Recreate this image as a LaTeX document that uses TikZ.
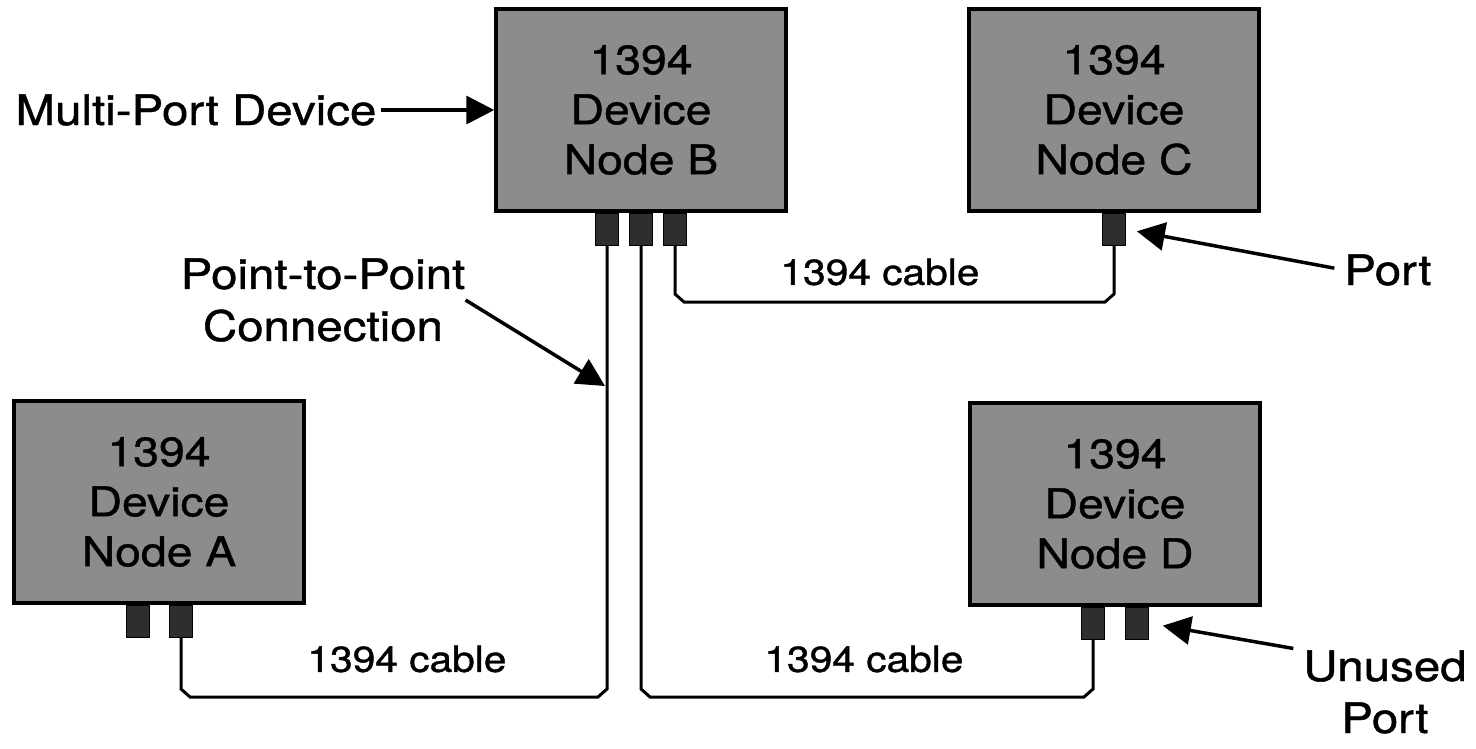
\documentclass[tikz,border=0pt]{standalone}
\usepackage{fontspec}
\setmainfont{TeX Gyre Heros}[FakeStretch=1.13, FakeBold=1]
\usepackage{tikz}
\usetikzlibrary{positioning, calc, arrows.meta}

\begin{document}
\begin{tikzpicture}[x=1pt, y=-1pt, node distance=0pt,
		dev/.style = {draw, line width=3.5pt, fill=black!45, minimum width=290pt, minimum height=202pt,
			align=center, font=\fontsize{41}{50}\selectfont},
		port/.style = {draw, line width=1pt, fill=black!82, minimum width=23pt, minimum height=32pt, inner sep=0pt},
		lbl/.style = {inner sep=0pt, align=center, font=\fontsize{42}{52}\selectfont},
		cbllbl/.style = {inner sep=0pt, font=\fontsize{36}{40}\selectfont},
		cbl/.style = {line width=3pt},
		ptr/.style = {line width=3.5pt, -{Triangle[length=28pt, width=28pt]}}]
		\useasboundingbox (0,0) rectangle (1476,748);
		% devices
		\node[dev] (a) at (159,502) {1394\\Device\\Node A};
		\node[dev] (b) at (641,110) {1394\\Device\\Node B};
		\node[dev] (c) at (1114,110) {1394\\Device\\Node C};
		\node[dev] (d) at (1115,504) {1394\\Device\\Node D};
		% ports
		\node[port] (a1) [below=of a, xshift=-21pt] {};
		\node[port] (a2) [below=of a, xshift=22pt] {};
		\node[port] (b1) [below=of b, xshift=-34pt] {};
		\node[port] (b2) [below=of b] {};
		\node[port] (b3) [below=of b, xshift=34pt] {};
		\node[port] (c1) [below=of c] {};
		\node[port] (d1) [below=of d, xshift=-22pt] {};
		\node[port] (d2) [below=of d, xshift=22pt] {};
		% cable levels
		\coordinate (lo) at (0,697);
		\coordinate (hi) at (0,302);
		% cables
		\draw[cbl] (a2.south) -- ($(a2.south |- lo)+(0,-8)$) -- ($(a2.south |- lo)+(9,0)$)
			-- ($(b1.south |- lo)+(-9,0)$) -- ($(b1.south |- lo)+(0,-8)$) -- (b1.south);
		\draw[cbl] (b2.south) -- ($(b2.south |- lo)+(0,-8)$) -- ($(b2.south |- lo)+(9,0)$)
			-- ($(d1.south |- lo)+(-9,0)$) -- ($(d1.south |- lo)+(0,-8)$) -- (d1.south);
		\draw[cbl] (b3.south) -- ($(b3.south |- hi)+(0,-8)$) -- ($(b3.south |- hi)+(9,0)$)
			-- ($(c1.south |- hi)+(-9,0)$) -- ($(c1.south |- hi)+(0,-8)$) -- (c1.south);
		\node[cbllbl] (ab) at (407,659) {1394 cable};
		\node[cbllbl] (bd) at (864,659) {1394 cable};
		\node[cbllbl] (bc) at (880,272) {1394 cable};
		% callouts
		\node[lbl] (mpd) at (196,110) {Multi-Port Device};
		\node[lbl] (ptp) at (323,300) {Point-to-Point\\Connection};
		\node[lbl] (pt) at (1388,270) {Port};
		\node[lbl] (up) at (1385,692) {Unused\\Port};
		\coordinate (tap) at (605,386);
		\draw[ptr, shorten <=4pt] (mpd) -- (b);
		\draw[ptr] (ptp.east) -- (tap);
		\draw[ptr, shorten <=10pt, shorten >=11pt] (pt.west) -- (c1.east);
		\draw[ptr, shorten <=10pt, shorten >=14pt] (up.north west) -- (d2.east);
	\end{tikzpicture}
\end{document}
